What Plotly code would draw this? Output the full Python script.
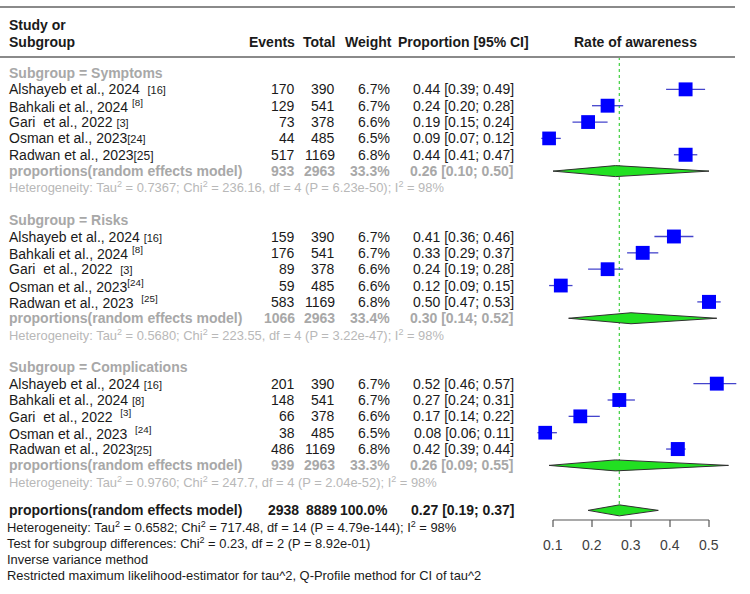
import plotly.graph_objects as go

W, H = 750, 594

# ---------------- data ----------------
subgroups = ["Symptoms", "Risks", "Complications"]

labels_symptoms = ["Alshayeb et al., 2024\u00a0\u00a0<span style='font-size:11px'>[16]</span>",
                   "Bahkali et al., 2024 <sup>[8]</sup>",
                   "Gari\u00a0\u00a0et al., 2022 <span style='font-size:11px'>[3]</span>",
                   "Osman et al., 2023<span style='font-size:11px'>[24]</span>",
                   "Radwan et al., 2023<span style='font-size:12px'>[25]</span>"]
labels_risks = ["Alshayeb et al., 2024 <span style='font-size:11px'>[16]</span>",
                "Bahkali et al., 2024 <sup>[8]</sup>",
                "Gari\u00a0\u00a0et al., 2022\u00a0\u00a0<span style='font-size:11px'>[3]</span>",
                "Osman et al., 2023<sup>[24]</sup>",
                "Radwan et al., 2023\u00a0\u00a0<sup>[25]</sup>"]
labels_compl = ["Alshayeb et al., 2024 <span style='font-size:11px'>[16]</span>",
                "Bahkali et al., 2024 <span style='font-size:11px'>[8]</span>",
                "Gari\u00a0\u00a0et al., 2022\u00a0\u00a0<sup>[3]</sup>",
                "Osman et al., 2023\u00a0\u00a0<sup>[24]</sup>",
                "Radwan et al., 2023<span style='font-size:11px'>[25]</span>"]

totals = [390, 541, 378, 485, 1169]

events_symptoms = [170, 129, 73, 44, 517]
weights_symptoms = [6.7, 6.7, 6.6, 6.5, 6.8]
prop_symptoms = [0.44, 0.24, 0.19, 0.09, 0.44]
lo_symptoms = [0.39, 0.20, 0.15, 0.07, 0.41]
hi_symptoms = [0.49, 0.28, 0.24, 0.12, 0.47]

events_risks = [159, 176, 89, 59, 583]
weights_risks = [6.7, 6.7, 6.6, 6.6, 6.8]
prop_risks = [0.41, 0.33, 0.24, 0.12, 0.50]
lo_risks = [0.36, 0.29, 0.19, 0.09, 0.47]
hi_risks = [0.46, 0.37, 0.28, 0.15, 0.53]

events_compl = [201, 148, 66, 38, 486]
weights_compl = [6.7, 6.7, 6.6, 6.5, 6.8]
prop_compl = [0.52, 0.27, 0.17, 0.08, 0.42]
lo_compl = [0.46, 0.24, 0.14, 0.06, 0.39]
hi_compl = [0.57, 0.31, 0.22, 0.11, 0.44]

sum_events = [933, 1066, 939]
sum_total = [2963, 2963, 2963]
sum_weight = [33.3, 33.4, 33.3]
sum_est = [0.26, 0.30, 0.26]
sum_lo = [0.10, 0.14, 0.09]
sum_hi = [0.50, 0.52, 0.55]
sum_tau2 = ["0.7367", "0.5680", "0.9760"]
sum_chi2 = ["236.16", "223.55", "247.7"]
sum_df = [4, 4, 4]
sum_p = ["6.23e-50", "3.22e-47", "2.04e-52"]
sum_i2 = [98, 98, 98]

overall_events = 2938
overall_total = 8889
overall_weight = 100.0
overall_est = 0.27
overall_lo = 0.19
overall_hi = 0.37
overall_het = "Heterogeneity: Tau<sup>2</sup> = 0.6582; Chi<sup>2</sup> = 717.48, df = 14 (P = 4.79e-144); I<sup>2</sup> = 98%"
test_text = "Test for subgroup differences: Chi<sup>2</sup> = 0.23, df = 2 (P = 8.92e-01)"
method_lines = ["Inverse variance method",
                "Restricted maximum likelihood-estimator for tau^2, Q-Profile method for CI of tau^2"]

tick_vals = [0.1, 0.2, 0.3, 0.4, 0.5]
tick_text = ["0.1", "0.2", "0.3", "0.4", "0.5"]

blocks = [
    (labels_symptoms, events_symptoms, weights_symptoms, prop_symptoms, lo_symptoms, hi_symptoms),
    (labels_risks, events_risks, weights_risks, prop_risks, lo_risks, hi_risks),
    (labels_compl, events_compl, weights_compl, prop_compl, lo_compl, hi_compl),
]

# ---------------- layout geometry ----------------
PX01, PX05 = 553.0, 709.0          # pixel positions of 0.1 and 0.5
scale = (PX05 - PX01) / 0.4
xmin = 0.1 - PX01 / scale
xmax = 0.1 + (W - PX01) / scale

def ypix(r):
    return 73 + 16.35 * r

def px(x):
    return x / W

FONT = "Liberation Sans, Arial, sans-serif"
BLACK = "#1a1a1a"
GRAY_B = "#a8a8a8"
GRAY_H = "#b8b8b8"
FS = 14
FSH = 12.9

fig = go.Figure()
ann = []

def text(x, y, s, anchor="left", size=FS, color=BLACK, bold=False):
    if bold:
        s = "<b>" + s + "</b>"
    ann.append(dict(x=px(x), xref="paper", y=y, yref="y", text=s, showarrow=False,
                    xanchor=anchor, yanchor="middle", borderpad=0,
                    font=dict(family=FONT, size=size, color=color)))

# header
text(8, 25, "Study or", bold=True)
text(8, 42, "Subgroup", bold=True)
text(296, 42, "Events", "right", bold=True)
text(336, 42, "Total", "right", bold=True)
text(393, 42, "Weight", "right", bold=True)
text(397, 42, "Proportion [95% CI]", "left", bold=True)
text(635, 42, "Rate of awareness", "center", bold=True)

ci_x, ci_y = [], []
sq_x, sq_y, sq_s = [], [], []
diamonds = []

for b, (name, blk) in enumerate(zip(subgroups, blocks)):
    labs, ev, wt, pr, lo, hi = blk
    r0 = 9 * b
    text(8, ypix(r0), "Subgroup = " + name, color=GRAY_B, bold=True)
    for i in range(5):
        y = ypix(r0 + 1 + i)
        text(8, y, labs[i])
        text(296, y, str(ev[i]), "right")
        text(336, y, str(totals[i]), "right")
        text(391, y, f"{wt[i]:.1f}%", "right")
        text(515, y, f"{pr[i]:.2f} [{lo[i]:.2f}; {hi[i]:.2f}]", "right")
        ci_x += [lo[i], hi[i], None]
        ci_y += [y, y, None]
        sq_x.append(pr[i]); sq_y.append(y); sq_s.append(14 * (wt[i] / 6.8) ** 0.5)
    ys = ypix(r0 + 6)
    text(8, ys, "proportions(random effects model)", color=GRAY_B, bold=True)
    text(296, ys, str(sum_events[b]), "right", color=GRAY_B, bold=True)
    text(336, ys, str(sum_total[b]), "right", color=GRAY_B, bold=True)
    text(391, ys, f"{sum_weight[b]:.1f}%", "right", color=GRAY_B, bold=True)
    text(515, ys, f"{sum_est[b]:.2f} [{sum_lo[b]:.2f}; {sum_hi[b]:.2f}]", "right", color=GRAY_B, bold=True)
    diamonds.append((sum_lo[b], sum_est[b], sum_hi[b], ys))
    het = (f"Heterogeneity: Tau<sup>2</sup> = {sum_tau2[b]}; Chi<sup>2</sup> = {sum_chi2[b]}, "
           f"df = {sum_df[b]} (P = {sum_p[b]}); I<sup>2</sup> = {sum_i2[b]}%")
    text(8, ypix(r0 + 7), het, size=FSH, color=GRAY_H)

yo = ypix(26.75)
text(8, yo, "proportions(random effects model)", bold=True)
text(300, yo, str(overall_events), "right", bold=True)
text(338, yo, str(overall_total), "right", bold=True)
text(389, yo, f"{overall_weight:.1f}%", "right", bold=True)
text(410, yo, f"{overall_est:.2f} [{overall_lo:.2f}; {overall_hi:.2f}]", "left", bold=True)
diamonds.append((overall_lo, overall_est, overall_hi, yo))
text(6, ypix(27.75), overall_het, size=FSH)
text(6, ypix(28.75), test_text, size=FSH)
for k, s in enumerate(method_lines):
    text(6, ypix(29.75 + k), s, size=FSH)

# reference line
DH = 5.5
fig.add_trace(go.Scatter(x=[overall_est, overall_est], y=[57, yo - DH], mode="lines",
                         line=dict(color="#3fcf3f", width=1.2, dash="dot"), hoverinfo="skip"))
# CI lines
fig.add_trace(go.Scatter(x=ci_x, y=ci_y, mode="lines", line=dict(color="#4444cc", width=1.3),
                         hoverinfo="skip"))
# squares
fig.add_trace(go.Scatter(x=sq_x, y=sq_y, mode="markers",
                         marker=dict(symbol="square", size=sq_s, color="#0000ff", opacity=1,
                                     line=dict(width=0)), hoverinfo="skip"))
# diamonds
for lo, est, hi, yc in diamonds:
    fig.add_trace(go.Scatter(x=[lo, est, hi, est, lo], y=[yc, yc - DH, yc, yc + DH, yc],
                             mode="lines", fill="toself", fillcolor="#22e022",
                             line=dict(color="#303030", width=1), hoverinfo="skip"))
# axis
AX_Y = 520
fig.add_trace(go.Scatter(x=[tick_vals[0], tick_vals[-1]], y=[AX_Y, AX_Y], mode="lines",
                         line=dict(color="#555555", width=1.2), hoverinfo="skip"))
tx, ty = [], []
for t in tick_vals:
    tx += [t, t, None]
    ty += [AX_Y, AX_Y + 7, None]
fig.add_trace(go.Scatter(x=tx, y=ty, mode="lines", line=dict(color="#555555", width=1.2),
                         hoverinfo="skip"))
for t, s in zip(tick_vals, tick_text):
    ann.append(dict(x=t, xref="x", y=545, yref="y", text=s, showarrow=False, xanchor="center",
                    yanchor="middle", font=dict(family=FONT, size=FS, color="#404040")))

shapes = [
    dict(type="line", xref="paper", yref="y", x0=0, x1=735 / W, y0=7, y1=7,
         line=dict(color="#8a8a8a", width=2)),
    dict(type="line", xref="paper", yref="y", x0=0, x1=735 / W, y0=57, y1=57,
         line=dict(color="#8a8a8a", width=2)),
]

fig.update_layout(
    width=W, height=H, margin=dict(l=0, r=0, t=0, b=0),
    paper_bgcolor="white", plot_bgcolor="white", showlegend=False,
    xaxis=dict(range=[xmin, xmax], visible=False, fixedrange=True),
    yaxis=dict(range=[H, 0], visible=False, fixedrange=True),
    annotations=ann, shapes=shapes,
)

fig.write_html("out.html")
